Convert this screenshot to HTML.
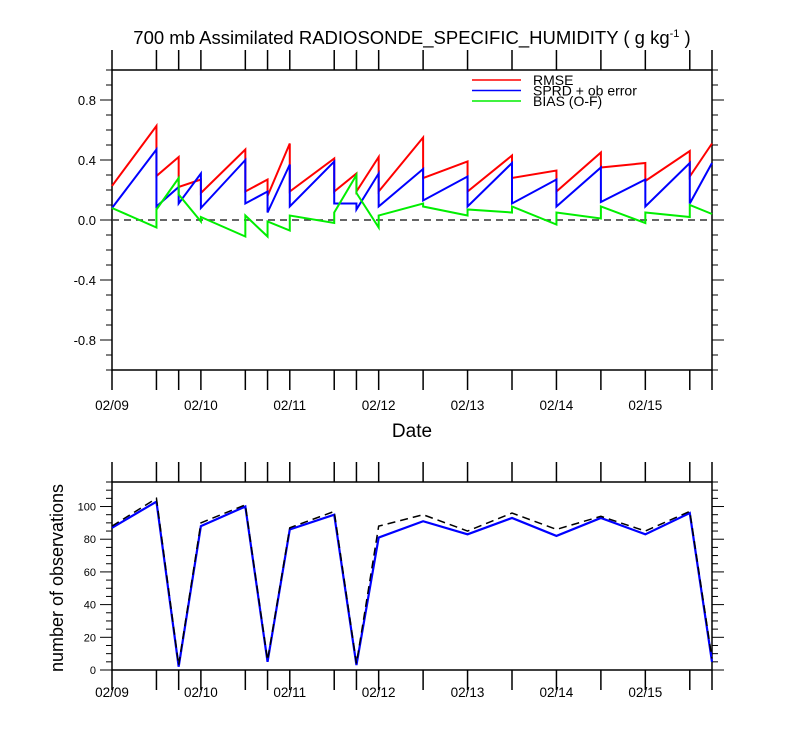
<!DOCTYPE html>
<html><head><meta charset="utf-8"><style>
body{margin:0;background:#fff;}
svg text{font-family:"Liberation Sans",sans-serif;fill:#000;}
</style></head><body>
<svg id="c" width="800" height="750" xmlns="http://www.w3.org/2000/svg"></svg>
<script>
const times=[0,0.5,0.75,1,1.5,1.75,2,2.5,2.75,3,3.5,4,4.5,5,5.5,6,6.5,6.75];
const dayLabels=["02/09","02/10","02/11","02/12","02/13","02/14","02/15"];
const rmseStart=[0.227,0.293,0.22,0.18,0.19,0.16,0.19,0.19,0.19,0.19,0.28,0.19,0.28,0.19,0.35,0.26,0.29];
const rmseEnd=[0.627,0.42,0.27,0.47,0.27,0.51,0.41,0.31,0.42,0.55,0.39,0.43,0.33,0.45,0.38,0.46,0.51];
const sprdStart=[0.08,0.09,0.11,0.08,0.11,0.05,0.09,0.11,0.07,0.09,0.13,0.09,0.11,0.09,0.12,0.09,0.11];
const sprdEnd=[0.47,0.22,0.31,0.40,0.19,0.37,0.39,0.11,0.31,0.34,0.29,0.38,0.27,0.35,0.27,0.38,0.38];
const biasStart=[0.08,0.07,0.17,0.02,0.03,-0.01,0.03,0.05,0.18,0.03,0.09,0.07,0.09,0.05,0.09,0.05,0.10];
const biasEnd=[-0.05,0.28,-0.01,-0.11,-0.11,-0.07,-0.02,0.30,-0.05,0.11,0.03,0.05,-0.03,0.01,-0.02,0.02,0.04];
const obsUsed=[87,103,2,88,100,5,86,95,3,81,91,83,93,82,93,83,96,5];
const obsAvail=[88,105,3,90,101,6,87,97,4,88,95,85,96,86,94,85,97,7];
const yTop=[0.8,0.4,0.0,-0.4,-0.8];
const yBot=[0,20,40,60,80,100];

const S=document.getElementById('c');const NS='http://www.w3.org/2000/svg';
function el(t,a,p){const e=document.createElementNS(NS,t);for(const k in a)e.setAttribute(k,a[k]);(p||S).appendChild(e);return e;}
const X0=112,X1=712;
function xs(t){return X0+(X1-X0)*t/6.75;}
function yT(v){return 220-v*150;}
function yB(v){return 670-v*(188/115);}

let t=el('text',{x:412,y:44,'font-size':18.5,'text-anchor':'middle'});

t.innerHTML='700 mb Assimilated RADIOSONDE_SPECIFIC_HUMIDITY ( g kg<tspan dy="-7" font-size="11">-1</tspan><tspan dy="7"> )</tspan>';

function frame(top,bot,name){
  const r=el('rect',{x:X0,y:top,width:X1-X0,height:bot-top,fill:'none',stroke:'#000','stroke-width':1.5});
  
  times.forEach(tt=>{const x=xs(tt);
    el('line',{x1:x,x2:x,y1:top-20,y2:top,stroke:'#000','stroke-width':1.5});
    el('line',{x1:x,x2:x,y1:bot,y2:bot+20,stroke:'#000','stroke-width':1.5});});
}
frame(70,370,'top-plot-frame');
for(let v=-1;v<=1.001;v+=0.1){const y=yT(v);const maj=Math.abs(Math.round(v*10)%4)==0;
  const L=maj?12:6;el('line',{x1:X0-L,x2:X0,y1:y,y2:y,stroke:'#000'});el('line',{x1:X1,x2:X1+L,y1:y,y2:y,stroke:'#000'});}
yTop.forEach(v=>{const e=el('text',{x:96,y:yT(v)+5,'font-size':13,'text-anchor':'end'});e.textContent=v.toFixed(1);
  });
el('line',{x1:X0,x2:X1,y1:yT(0),y2:yT(0),stroke:'#333','stroke-width':1.5,'stroke-dasharray':'7,5'});
function saw(st,en,color,name){let d='';
  for(let i=0;i<st.length;i++){d+=(i?'L':'M')+xs(times[i])+','+yT(st[i])+'L'+xs(times[i+1])+','+yT(en[i]);}
  const p=el('path',{d:d,fill:'none',stroke:color,'stroke-width':2});
  }
saw(rmseStart,rmseEnd,'#f00','rmse-line');
saw(sprdStart,sprdEnd,'#00f','spread-line');
saw(biasStart,biasEnd,'#0e0','bias-line');
dayLabels.forEach((l,i)=>{const e=el('text',{x:xs(i),y:410,'font-size':13.5,'text-anchor':'middle'});e.textContent=l;
  
  const f=el('text',{x:xs(i),y:697,'font-size':13.5,'text-anchor':'middle'});f.textContent=l;
  });
let dt=el('text',{x:412,y:437,'font-size':19,'text-anchor':'middle'});dt.textContent='Date';

[['RMSE','#f00',80],['SPRD + ob error','#00f',90.5],['BIAS (O-F)','#0e0',101]].forEach(a=>{
  const g=el('g',{});
  el('line',{x1:472,x2:521,y1:a[2],y2:a[2],stroke:a[1],'stroke-width':1.5},g);
  const e=el('text',{x:533,y:a[2]+5,'font-size':14},g);e.textContent=a[0];});
frame(482,670,'bottom-plot-frame');
for(let v=0;v<=115;v+=5){const y=yB(v);const L=v%20==0?12:6;
  el('line',{x1:X0-L,x2:X0,y1:y,y2:y,stroke:'#000'});el('line',{x1:X1,x2:X1+L,y1:y,y2:y,stroke:'#000'});}
yBot.forEach(v=>{const e=el('text',{x:96,y:yB(v)+4,'font-size':11,'text-anchor':'end'});e.textContent=v;
  });
function poly(vals,color,w,dash,name){const p=el('polyline',{points:vals.map((v,i)=>xs(times[i])+','+yB(v)).join(' '),fill:'none',stroke:color,'stroke-width':w});
  if(dash)p.setAttribute('stroke-dasharray',dash);
  }
poly(obsUsed,'#00f',2.2,null,'obs-used-line');
poly(obsAvail,'#000',1.5,'8,5','obs-available-line');
let yl=el('text',{x:0,y:0,'font-size':18,'text-anchor':'middle',transform:'translate(63,578) rotate(-90)'});
yl.textContent='number of observations';
</script>
</body></html>
